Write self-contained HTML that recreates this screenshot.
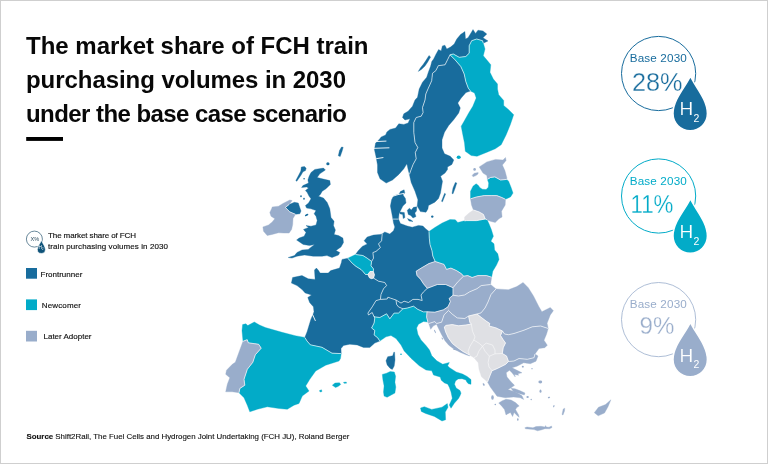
<!DOCTYPE html>
<html lang="en"><head><meta charset="utf-8"><title>FCH train market share 2030</title>
<style>
html,body{margin:0;padding:0;background:#fff}
body{width:768px;height:464px;overflow:hidden;position:relative;font-family:"Liberation Sans",sans-serif}
svg{position:absolute;left:0;top:0;display:block}
text{font-family:"Liberation Sans",sans-serif}
.t{font-weight:bold;font-size:24px;fill:#080808}
.lg{font-size:8px;fill:#111;stroke:#111;stroke-width:.15px}
.b30{font-size:11.7px;text-anchor:middle}
.pct{stroke:#fff;stroke-width:.3px}
.h{font-size:19px;fill:#fff;stroke-width:.15px}
.h2{font-size:10.5px;fill:#fff}
.land polygon{stroke-width:.35;stroke-linejoin:round}
</style></head><body>
<svg width="768" height="464" viewBox="0 0 768 464">
<rect x="0.5" y="0.5" width="767" height="463" fill="#fff" stroke="#cfcfcf" stroke-width="1"/>

<g class="land">
<g fill="#186c9d" stroke="#186c9d">
<polygon points="409.4,174.4 411.2,169.4 413.1,164.4 416.2,158.8 415.3,152.5 417.8,147.5 415.0,142.5 413.8,132.5 413.8,122.5 416.2,117.5 421.2,116.2 423.1,112.5 422.5,107.5 425.0,100.0 425.8,94.0 428.3,88.2 431.7,80.7 432.5,73.2 435.8,70.7 438.3,65.7 445.0,64.8 447.5,59.8 450.0,54.8 453.3,54.0 459.2,57.3 465.8,56.5 469.2,53.2 469.2,45.7 471.7,40.7 476.7,39.0 482.5,40.7 483.3,43.2 488.0,40.9 483.0,37.8 486.8,34.0 483.0,30.9 478.0,30.2 475.5,33.4 473.0,29.6 471.1,32.8 468.0,37.8 465.5,39.0 464.9,31.5 460.5,34.6 456.8,39.0 454.2,44.0 450.5,47.1 446.8,49.0 444.9,45.2 442.4,45.9 441.1,50.9 438.6,49.6 436.1,54.0 433.6,59.0 431.8,61.5 430.5,66.5 428.6,71.5 426.7,77.3 422.5,82.3 419.2,89.0 417.5,97.3 415.0,100.0 412.5,106.2 408.1,111.2 403.8,113.8 402.5,117.5 405.0,120.0 410.0,118.8 408.1,123.1 403.8,124.4 398.8,123.8 395.6,128.1 390.0,129.4 386.9,131.9 385.6,135.0 381.2,136.9 378.8,140.0 375.6,143.1 374.4,149.4 376.2,157.5 377.5,165.0 377.5,172.5 380.0,178.8 386.2,183.1 392.5,180.0 398.8,174.4 403.8,168.8 406.9,163.8 408.0,169.0 409.4,174.4"/>
<polygon points="429.0,55.5 430.6,57.0 427.7,62.0 425.0,66.0 421.7,69.2 418.3,71.4 420.3,68.0 423.3,64.3 426.0,60.3"/>
<polygon points="450.0,54.8 447.5,59.8 445.0,64.8 438.3,65.7 435.8,70.7 432.5,73.2 431.7,80.7 428.3,88.2 425.8,94.0 425.0,100.0 422.5,107.5 423.1,112.5 421.2,116.2 416.2,117.5 413.8,122.5 413.8,132.5 415.0,142.5 417.8,147.5 415.3,152.5 416.2,158.8 413.1,164.4 411.2,169.4 409.4,174.4 411.2,182.5 415.0,191.2 417.9,199.8 417.2,206.0 420.4,211.6 426.0,212.2 427.9,209.1 428.5,205.4 434.8,202.2 438.5,198.5 440.5,193.0 441.2,188.8 442.5,181.2 440.6,176.2 445.0,173.1 447.5,169.5 447.5,166.9 451.9,164.4 453.8,160.0 450.3,156.3 444.5,153.8 442.0,148.0 442.0,139.7 444.5,132.2 448.7,125.5 453.7,119.7 458.7,113.0 460.3,108.0 457.8,103.0 461.2,98.0 466.0,92.5 470.5,91.0 468.3,88.2 465.8,81.5 464.2,74.0 460.8,66.5 455.0,59.8"/>
<polygon points="404.1,189.8 400.4,191.6 399.1,194.1 393.5,196.0 391.6,199.8 390.4,206.0 391.6,212.2 392.9,219.1 398.5,219.1 399.1,213.5 401.0,209.8 402.9,206.0 406.0,202.9 405.4,198.5 402.9,194.8 404.8,192.9"/>
<polygon points="399.6,212.0 404.3,212.5 404.9,217.6 403.2,218.6 402.7,214.6 399.9,213.8"/>
<polygon points="407.3,210.2 409.5,208.2 411.3,210.0 413.5,207.3 416.8,206.8 416.5,211.0 414.8,213.0 416.0,216.5 413.0,218.0 410.8,215.5 408.3,214.5"/>
<polygon points="407.5,218.5 411.0,220.0 413.0,221.5 409.0,221.0"/>
<polygon points="382.2,233.9 384.8,232.0 389.8,233.9 393.5,230.8 394.8,227.0 393.5,222.9 392.9,219.1 398.5,219.1 400.4,223.5 407.2,226.0 412.2,227.2 418.5,225.4 422.9,226.0 425.4,228.5 429.0,231.5 429.3,238.2 430.0,244.5 432.0,250.8 432.8,256.0 435.2,261.5 428.9,263.6 421.0,268.2 416.2,271.2 417.0,275.5 420.6,279.3 423.5,283.8 427.3,288.3 423.5,291.9 421.0,295.0 422.2,300.5 418.0,299.4 412.9,299.4 408.5,302.5 404.1,301.2 401.0,303.1 396.0,300.0 390.4,298.1 387.9,297.2 387.2,299.0 380.4,299.4 381.0,294.4 383.5,288.8 386.6,285.6 384.8,282.5 378.5,281.2 373.5,278.1 374.4,274.8 373.3,271.5 373.5,268.9 371.0,265.8 371.6,261.4 373.5,258.2 372.9,252.6 376.0,251.4 380.4,247.6 378.5,243.9 381.6,240.8"/>
<polygon points="355.5,254.5 358.0,251.0 362.2,246.4 367.2,243.9 364.1,240.8 367.2,237.0 373.5,235.1 379.8,234.5 382.2,233.9 381.6,240.8 378.5,243.9 380.4,247.6 376.0,251.4 372.9,252.6 373.5,258.2 371.6,261.4 367.2,258.2 362.9,255.5"/>
<polygon points="347.8,258.2 352.2,263.2 356.0,266.4 361.0,269.5 362.9,271.4 365.5,274.5 367.9,274.5 369.5,277.8 371.5,278.6 373.5,278.1 378.5,281.2 384.8,282.5 386.6,285.6 383.5,288.8 381.0,294.4 380.4,299.4 376.0,300.6 372.2,306.9 367.9,313.1 368.5,315.0 372.2,312.5 373.5,315.5 374.8,318.0 374.1,323.0 371.6,328.0 374.8,330.5 374.1,334.9 377.9,338.0 379.8,341.1 374.8,343.0 369.8,347.4 363.5,347.4 357.2,344.9 349.8,344.2 343.5,345.5 341.0,348.6 341.2,353.6 332.0,353.2 322.0,347.3 310.3,344.8 307.0,341.0 304.8,337.4 307.1,331.8 309.0,325.5 310.9,319.2 312.8,314.9 314.0,311.8 313.4,306.8 309.6,302.4 307.8,297.4 311.5,294.9 305.2,293.0 302.0,289.4 297.0,285.6 291.4,283.1 292.6,277.5 302.0,275.6 308.2,278.8 315.1,279.4 314.5,270.0 316.4,268.1 318.2,270.0 320.1,273.1 328.2,273.1 330.8,270.6 339.5,268.1 341.4,262.5 342.0,259.4"/>
<polygon points="393.8,352.2 392.7,355.8 387.7,356.7 386.0,360.8 387.2,365.0 390.0,368.2 392.3,369.5 394.2,366.0 395.0,360.0 394.6,352.2"/>
<polygon points="396.0,300.0 390.4,298.1 387.9,297.2 387.2,299.0 380.4,299.4 376.0,300.6 372.2,306.9 367.9,313.1 368.5,315.0 372.2,312.5 373.5,315.5 374.8,316.9 379.8,317.5 386.6,313.8 389.8,318.8 394.1,313.1 398.5,313.1 402.9,308.8 398.5,306.9 396.6,304.4"/>
<polygon points="396.0,300.0 401.0,303.1 404.1,301.2 408.5,302.5 412.9,299.4 418.0,299.4 422.2,300.5 421.0,295.0 423.5,291.9 427.3,288.3 437.3,284.5 445.7,284.5 453.0,287.7 453.0,295.2 449.1,298.5 450.4,301.6 448.0,306.8 443.5,309.8 434.8,312.2 427.0,311.8 423.5,311.9 417.9,309.4 413.5,306.2 407.2,308.1 402.9,308.8 398.5,306.9 396.6,304.4"/>
<polygon points="314.8,169.4 323.5,168.1 325.4,170.0 319.8,173.8 317.2,177.5 322.2,178.8 329.8,180.6 330.4,184.4 326.0,188.8 322.2,191.2 320.4,194.4 318.5,196.2 323.5,198.1 327.2,202.5 329.8,208.8 331.0,217.5 334.1,221.2 333.5,225.6 335.4,230.0 334.1,234.4 338.5,235.6 342.9,238.1 343.5,242.5 341.0,246.9 336.0,250.5 339.8,252.5 338.5,255.0 332.0,257.5 327.0,255.6 322.0,256.2 313.2,256.2 304.5,255.0 297.0,256.2 292.0,258.1 288.2,257.5 294.5,255.6 297.0,252.5 302.0,250.0 308.2,249.4 314.5,244.4 309.5,245.6 303.2,244.4 296.6,240.0 299.1,238.1 304.1,236.2 306.0,232.5 303.5,229.4 308.5,227.5 306.0,225.6 311.0,226.2 316.0,225.0 317.2,220.6 316.0,216.2 314.1,213.8 316.0,210.6 311.0,208.8 306.6,208.1 305.4,205.6 308.5,203.1 311.0,198.8 309.1,196.2 307.2,192.5 305.4,190.6 308.5,188.1 306.6,186.9 301.6,187.5 302.9,185.6 308.5,183.1 307.9,180.0 309.1,176.2 311.0,172.5"/>
<polygon points="289.1,204.4 294.4,202.3 298.3,203.1 299.6,207.0 301.0,211.0 299.8,213.8 295.5,214.3 289.8,211.9 285.4,207.5"/>
<polygon points="343.2,147.3 342.0,151.5 340.2,156.6 338.3,155.8 339.5,150.5 341.5,147.0"/>
<polygon points="301.3,167.0 304.5,166.6 306.2,168.2 305.5,170.6 303.0,171.8 300.8,175.5 296.8,181.3 295.8,180.6 299.0,174.5 300.8,171.0"/>
<polygon points="444.6,193.3 445.6,193.9 442.5,201.8 441.5,201.3"/>
<polygon points="455.3,182.5 456.8,183.0 455.0,188.5 453.0,193.8 452.0,193.5 453.0,188.0"/>
</g>
<g fill="#02abc8" stroke="#02abc8">
<polygon points="450.0,54.8 453.3,54.0 459.2,57.3 465.8,56.5 469.2,53.2 469.2,45.7 471.7,40.7 476.7,39.0 482.5,40.7 483.3,43.2 485.0,49.0 483.3,55.7 486.7,59.8 490.8,64.8 490.0,72.3 493.3,79.0 497.5,84.0 497.5,89.0 498.7,94.7 503.7,100.5 503.7,105.5 508.7,109.7 513.7,114.7 510.3,124.7 506.2,134.7 501.2,144.7 495.3,148.8 487.0,152.2 477.0,156.3 471.2,155.5 465.3,151.3 464.5,143.0 462.8,134.7 461.2,126.3 464.5,120.5 468.7,113.0 472.8,106.3 476.2,98.0 474.5,93.0 470.5,91.0 468.3,88.2 465.8,81.5 464.2,74.0 460.8,66.5 455.0,59.8"/>
<polygon points="347.8,258.2 355.5,254.5 362.9,255.5 367.2,258.2 371.6,261.4 371.0,265.8 373.5,268.9 373.3,271.5 370.0,271.5 367.9,274.5 365.5,274.5 362.9,271.4 361.0,269.5 356.0,266.4 352.2,263.2"/>
<polygon points="379.8,341.1 377.9,338.0 374.1,334.9 374.8,330.5 371.6,328.0 374.1,323.0 374.8,318.0 373.5,315.5 374.8,316.9 379.8,317.5 386.6,313.8 389.8,318.8 394.1,313.1 398.5,313.1 402.9,308.8 407.2,308.1 413.5,306.2 417.9,309.4 423.5,311.9 427.0,311.8 426.6,317.2 427.9,322.0 423.5,321.5 418.5,324.2 416.6,328.0 417.9,334.2 421.0,339.9 426.0,345.5 429.5,350.0 431.8,355.8 436.8,360.8 442.7,364.2 449.3,362.5 447.7,365.8 449.3,367.5 456.2,371.9 462.6,374.1 467.1,376.4 471.0,379.6 471.0,384.3 468.4,383.8 466.8,381.9 465.9,380.0 462.0,378.7 458.1,379.0 455.5,380.9 454.5,384.2 456.2,388.0 460.0,390.6 461.0,393.2 460.0,395.8 458.5,398.5 454.3,403.3 451.0,408.3 449.3,405.0 452.3,398.3 451.0,391.9 449.4,387.4 447.8,384.2 444.5,382.9 441.3,380.3 440.2,377.0 433.5,375.0 431.8,370.8 426.0,370.0 419.3,365.8 411.0,358.3 404.2,351.0 401.0,344.9 396.0,338.6 391.0,335.5 386.0,336.8"/>
<polygon points="420.5,408.0 424.3,406.7 431.7,409.4 442.0,407.2 447.3,403.6 448.0,407.2 445.3,412.1 445.6,419.8 442.0,421.0 434.4,416.4 425.6,413.5 421.3,411.4"/>
<polygon points="382.3,374.4 386.5,373.2 390.1,371.6 394.3,372.0 395.6,376.2 394.9,382.2 395.8,387.1 394.9,393.1 391.3,394.9 387.1,397.3 384.1,396.1 383.5,391.9 384.1,385.9 382.9,379.8"/>
<polygon points="242.6,324.6 245.8,323.8 247.8,325.5 254.3,322.0 259.5,325.0 265.3,327.5 282.0,332.3 295.3,335.7 304.8,337.4 307.0,341.0 310.3,344.8 322.0,347.3 332.0,353.2 341.2,353.6 340.5,358.5 339.0,361.0 325.7,365.2 315.7,371.0 309.8,379.3 305.7,386.0 309.0,391.0 302.3,396.0 299.0,403.5 294.0,405.2 287.3,409.3 279.0,408.5 267.3,406.8 257.3,409.3 249.8,411.8 247.3,405.2 244.0,397.7 239.0,392.7 239.8,388.5 244.8,385.2 244.0,379.3 247.3,369.3 252.8,362.3 255.3,354.8 261.2,348.2 258.7,344.3 248.3,342.8 247.2,339.7 243.0,341.3 242.0,330.7"/>
<polygon points="332.3,385.2 335.0,383.0 339.5,382.8 340.7,384.5 338.0,386.5 335.5,387.5"/>
<polygon points="343.5,382.3 346.3,382.0 346.5,383.2 344.0,383.3"/>
<polygon points="319.5,390.5 321.5,389.8 322.0,391.5 320.0,392.0"/>
<polygon points="429.0,231.5 434.8,227.5 442.2,223.0 450.0,219.5 455.3,219.8 457.8,222.5 464.5,220.8 466.5,220.6 476.5,220.6 485.2,219.0 487.1,219.8 489.0,223.8 491.5,230.0 493.4,236.2 490.9,241.2 494.0,243.8 494.6,250.0 497.8,253.8 499.0,259.4 496.5,265.0 492.8,271.2 491.6,277.2 486.5,275.6 477.8,275.6 472.1,277.5 467.8,275.6 463.5,276.2 461.5,273.8 456.5,270.6 450.9,268.1 446.5,269.4 444.0,264.4 435.2,261.5 432.8,256.0 432.0,250.8 430.0,244.5 429.3,238.2"/>
<polygon points="487.4,179.4 490.5,177.5 494.9,176.9 500.5,180.0 506.8,179.4 508.6,181.2 511.1,187.5 513.0,193.1 510.5,196.9 505.5,199.3 501.8,197.5 496.8,195.6 491.1,195.6 484.2,195.6 476.8,196.9 470.5,198.8 470.5,191.2 473.0,186.2 476.1,183.8 478.2,185.3 480.0,187.8 482.4,189.2 486.1,189.6 488.3,187.2 488.7,183.0"/>
</g>
<g fill="#99adcb" stroke="#99adcb">
<polygon points="272.2,206.9 278.5,206.2 282.9,203.5 289.8,200.0 292.2,200.6 289.1,204.4 285.4,207.5 289.8,211.9 295.5,214.3 293.0,218.5 292.7,224.5 291.6,229.4 289.1,233.1 284.1,233.1 278.5,232.8 272.2,234.4 267.2,235.6 263.5,231.2 262.9,226.9 268.5,225.0 272.2,221.9 274.8,218.8 271.0,216.2 269.8,212.5 271.6,208.8"/>
<polygon points="243.0,341.3 247.2,339.7 248.3,342.8 258.7,344.3 261.2,348.2 255.3,354.8 252.8,362.3 247.3,369.3 244.0,379.3 244.8,385.2 239.8,388.5 239.0,392.7 232.3,391.8 225.7,391.8 227.3,384.3 229.8,377.7 225.7,374.3 226.5,370.2 232.3,364.3 235.3,362.3 239.5,350.7"/>
<polygon points="435.2,261.5 444.0,264.4 446.5,269.4 450.9,268.1 456.5,270.6 461.5,273.8 463.5,276.2 458.2,281.4 453.0,287.7 445.7,284.5 437.3,284.5 427.3,288.3 423.5,283.8 420.6,279.3 417.0,275.5 416.2,271.2 421.0,268.2 428.9,263.6"/>
<polygon points="463.5,276.2 467.8,275.6 472.1,277.5 477.8,275.6 486.5,275.6 491.6,277.2 490.6,284.5 481.2,285.6 477.0,288.7 469.7,291.8 464.5,295.0 458.5,296.0 453.0,295.2 453.0,287.7 458.2,281.4"/>
<polygon points="453.0,295.2 458.5,296.0 464.5,295.0 469.7,291.8 477.0,288.7 481.2,285.6 490.6,284.5 496.0,288.9 491.0,294.5 488.0,302.0 485.0,308.0 481.0,312.9 477.0,314.0 468.6,316.0 464.8,318.5 457.2,317.9 452.2,314.1 448.5,310.5 448.0,306.8 450.4,301.6 449.1,298.5"/>
<polygon points="427.0,311.8 434.8,312.2 443.5,309.8 448.0,306.8 448.5,310.5 444.1,314.8 441.6,322.2 436.6,323.5 434.8,321.6 428.9,323.5 427.9,322.0 426.6,317.2"/>
<polygon points="448.5,310.5 452.2,314.1 457.2,317.9 464.8,318.5 468.6,316.0 469.8,322.2 471.3,324.0 466.0,325.0 458.5,325.8 452.2,324.6 446.0,325.4 444.3,327.0 445.6,331.8 448.3,337.7 452.5,343.6 457.5,347.6 463.0,351.5 469.5,355.0 469.8,356.0 466.0,354.8 460.0,352.2 453.8,349.0 448.8,345.2 445.0,340.8 441.9,335.2 438.8,329.0 436.5,324.3 433.2,326.0 430.7,329.3 429.0,324.3 428.9,323.5 434.8,321.6 436.6,323.5 441.6,322.2 444.1,314.8"/>
<polygon points="496.0,288.9 508.4,289.7 516.8,286.6 523.1,282.4 528.3,287.7 533.5,296.0 538.8,306.5 541.9,311.7 550.3,307.5 553.4,310.7 550.3,314.9 547.1,323.2 548.2,328.5 540.7,326.0 532.3,326.8 524.0,330.2 514.0,333.5 508.4,334.7 504.5,334.0 502.5,331.0 496.0,327.9 489.1,326.0 489.8,323.5 486.0,321.0 481.0,317.2 477.0,314.0 481.0,312.9 485.0,308.0 488.0,302.0 491.0,294.5"/>
<polygon points="502.5,331.0 504.5,334.0 508.4,334.7 514.0,333.5 524.0,330.2 532.3,326.8 540.7,326.0 548.2,328.5 546.5,334.3 544.0,340.2 547.3,345.2 544.8,347.7 539.0,348.5 535.0,354.0 534.0,357.7 527.3,359.3 519.0,358.5 514.0,361.0 508.5,361.5 506.5,356.0 502.3,353.5 503.2,347.7 505.5,343.0 503.0,339.5 500.5,335.5"/>
<polygon points="487.5,382.0 489.8,376.0 492.0,370.7 497.3,368.5 505.7,364.3 508.5,361.5 514.0,361.0 519.0,358.5 527.3,359.3 534.0,357.7 535.0,354.0 538.0,356.0 536.0,361.2 530.3,363.7 523.7,362.8 517.0,366.2 512.0,367.8 517.0,370.3 522.0,372.8 517.8,373.7 518.7,375.3 514.5,374.5 515.3,377.0 512.0,372.8 509.5,370.3 506.2,372.8 507.0,377.0 511.2,382.0 514.5,385.3 511.2,387.8 507.8,389.5 509.5,390.0 516.5,392.6 522.0,395.8 523.7,399.5 520.3,397.8 513.7,397.0 505.3,397.8 497.0,396.2 494.5,392.8 490.3,387.0"/>
<polygon points="498.7,402.9 502.3,400.7 506.0,399.3 511.1,400.0 515.5,402.6 519.2,405.9 517.0,407.3 515.5,409.5 518.5,414.7 519.2,417.3 517.0,415.4 514.1,412.5 512.6,416.6 510.4,412.5 507.5,413.9 506.0,414.9 504.5,409.5 501.6,405.9"/>
<polygon points="511.0,388.3 515.0,388.8 520.3,390.8 525.0,393.0 524.3,395.0 519.0,393.6 513.5,391.8"/>
<polygon points="594.3,412.7 598.5,407.2 605.5,404.6 610.9,399.8 608.0,406.8 604.5,413.0 598.2,415.8"/>
<polygon points="524.8,427.8 527.0,427.0 533.0,427.8 536.0,426.6 541.0,426.3 545.0,427.0 545.6,425.6 546.4,427.1 549.0,427.2 551.5,426.0 552.0,427.5 549.5,428.8 545.0,428.7 541.0,430.0 537.5,430.8 534.0,429.6 528.0,429.0 525.5,428.8"/>
<polygon points="562.0,414.5 563.2,409.0 564.8,408.2 564.5,411.0 563.0,415.0"/>
<polygon points="479.2,166.9 486.8,161.9 495.5,159.4 503.0,160.0 505.5,157.5 506.1,160.6 502.4,165.0 504.9,170.6 506.8,177.5 506.8,179.4 500.5,180.0 494.9,176.9 490.5,177.5 487.4,179.4 486.8,175.6 483.0,173.1 481.1,170.0"/>
<polygon points="472.2,175.3 474.3,173.2 478.2,172.6 478.0,174.0 476.0,175.6 473.0,176.8"/>
<polygon points="470.5,198.8 476.8,196.9 484.2,195.6 491.1,195.6 496.8,195.6 501.8,197.5 505.5,199.3 505.2,205.0 501.5,211.2 502.1,216.9 499.0,218.8 495.2,222.5 490.2,221.2 487.1,219.8 485.2,219.0 483.4,214.4 479.0,211.9 473.4,210.0 471.5,205.0"/>
</g>
<g fill="#dfe0e4" stroke="#dfe0e4">
<polygon points="373.5,278.1 374.4,274.8 373.3,271.5 370.0,271.5 367.9,274.5 369.5,277.8 371.5,278.6"/>
<polygon points="468.6,316.0 477.0,314.0 481.0,317.2 486.0,321.0 489.8,323.5 489.1,326.0 496.0,327.9 502.5,331.0 500.5,335.5 503.0,339.5 505.5,343.0 503.2,347.7 502.3,353.5 506.5,356.0 508.5,361.5 505.7,364.3 497.3,368.5 492.0,370.7 489.8,376.0 487.5,382.0 481.5,376.8 479.0,369.3 478.2,362.7 474.0,357.7 469.5,355.0 463.0,351.5 457.5,347.6 452.5,343.6 448.3,337.7 445.6,331.8 444.3,327.0 446.0,325.4 452.2,324.6 458.5,325.8 466.0,325.0 471.3,324.0 469.8,322.2"/>
<polygon points="473.4,210.0 479.0,211.9 483.4,214.4 485.2,219.0 476.5,220.6 466.5,220.6 464.5,220.8 464.6,216.9 469.0,213.1"/>
</g>
</g>
<ellipse cx="327.9" cy="163.75" rx="1.6" ry="1.6" fill="#186c9d"/>
<ellipse cx="306.6" cy="215" rx="1.9" ry="1.0" fill="#186c9d" transform="rotate(-30 306.6 215)"/>
<ellipse cx="304.1" cy="178.75" rx="0.8" ry="0.8" fill="#186c9d"/>
<ellipse cx="301" cy="196.25" rx="0.8" ry="1.0" fill="#186c9d"/>
<ellipse cx="304" cy="198.75" rx="0.8" ry="0.9" fill="#186c9d"/>
<ellipse cx="432.25" cy="216.6" rx="1.2" ry="1.2" fill="#186c9d"/>
<ellipse cx="458.7" cy="157.2" rx="2.0" ry="1.7" fill="#02abc8"/>
<ellipse cx="474.6" cy="169.4" rx="1.3" ry="1.3" fill="#99adcb"/>
<ellipse cx="401" cy="354.2" rx="0.8" ry="0.8" fill="#02abc8"/>
<ellipse cx="483.7" cy="384.5" rx="0.8" ry="1.4" fill="#99adcb" transform="rotate(-30 483.7 384.5)"/>
<ellipse cx="492.5" cy="397.5" rx="1.3" ry="2.2" fill="#99adcb"/>
<ellipse cx="495.3" cy="404.5" rx="0.8" ry="0.8" fill="#99adcb"/>
<ellipse cx="517.8" cy="419.5" rx="0.8" ry="1.2" fill="#99adcb"/>
<ellipse cx="522.8" cy="366.7" rx="1.0" ry="0.9" fill="#99adcb"/>
<ellipse cx="532" cy="368.7" rx="0.7" ry="0.6" fill="#99adcb"/>
<ellipse cx="540.3" cy="382" rx="1.9" ry="1.4" fill="#99adcb"/>
<ellipse cx="540.5" cy="391.2" rx="1.0" ry="1.6" fill="#99adcb"/>
<ellipse cx="527.6" cy="397" rx="1.2" ry="1.0" fill="#99adcb"/>
<ellipse cx="549" cy="397.5" rx="1.2" ry="0.7" fill="#99adcb" transform="rotate(-20 549 397.5)"/>
<ellipse cx="553.8" cy="406.2" rx="0.6" ry="1.2" fill="#99adcb" transform="rotate(20 553.8 406.2)"/>
<ellipse cx="531.2" cy="399.5" rx="0.7" ry="0.7" fill="#99adcb"/>
<ellipse cx="435" cy="331.5" rx="0.5" ry="1.8" fill="#99adcb" transform="rotate(-25 435 331.5)"/>
<ellipse cx="442.3" cy="338.5" rx="0.5" ry="1.2" fill="#99adcb" transform="rotate(-30 442.3 338.5)"/>
<ellipse cx="455" cy="349.6" rx="2.0" ry="0.5" fill="#99adcb" transform="rotate(10 455 349.6)"/>
<g fill="none" stroke="#fff" stroke-width=".7" stroke-linejoin="round" opacity=".95">
<polyline points="450.0,54.8 447.5,59.8 445.0,64.8 438.3,65.7 435.8,70.7 432.5,73.2 431.7,80.7 428.3,88.2 425.8,94.0 425.0,100.0 422.5,107.5 423.1,112.5 421.2,116.2 416.2,117.5 413.8,122.5 413.8,132.5 415.0,142.5 417.8,147.5 415.3,152.5 416.2,158.8 413.1,164.4 411.2,169.4 409.4,174.4"/>
<polyline points="450.0,54.8 453.3,54.0 459.2,57.3 465.8,56.5 469.2,53.2 469.2,45.7 471.7,40.7 476.7,39.0 482.5,40.7 483.3,43.2"/>
<polyline points="450.0,54.8 455.0,59.8 460.8,66.5 464.2,74.0 465.8,81.5 468.3,88.2 470.5,91.0"/>
<polyline points="429.0,231.5 429.3,238.2 430.0,244.5 432.0,250.8 432.8,256.0 435.2,261.5"/>
<polyline points="435.2,261.5 428.9,263.6 421.0,268.2 416.2,271.2 417.0,275.5 420.6,279.3 423.5,283.8 427.3,288.3"/>
<polyline points="427.3,288.3 423.5,291.9 421.0,295.0 422.2,300.5 418.0,299.4 412.9,299.4 408.5,302.5 404.1,301.2 401.0,303.1 396.0,300.0"/>
<polyline points="396.0,300.0 390.4,298.1 387.9,297.2 387.2,299.0 380.4,299.4"/>
<polyline points="380.4,299.4 381.0,294.4 383.5,288.8 386.6,285.6 384.8,282.5 378.5,281.2 373.5,278.1"/>
<polyline points="373.5,278.1 374.4,274.8 373.3,271.5 370.0,271.5 367.9,274.5 369.5,277.8 371.5,278.6 373.5,278.1"/>
<polyline points="373.3,271.5 373.5,268.9 371.0,265.8 371.6,261.4"/>
<polyline points="371.6,261.4 373.5,258.2 372.9,252.6 376.0,251.4 380.4,247.6 378.5,243.9 381.6,240.8 382.2,233.9"/>
<polyline points="371.6,261.4 367.2,258.2 362.9,255.5 355.5,254.5"/>
<polyline points="347.8,258.2 352.2,263.2 356.0,266.4 361.0,269.5 362.9,271.4 365.5,274.5 367.9,274.5"/>
<polyline points="380.4,299.4 376.0,300.6 372.2,306.9 367.9,313.1 368.5,315.0 372.2,312.5 373.5,315.5"/>
<polyline points="373.5,315.5 374.8,318.0 374.1,323.0 371.6,328.0 374.8,330.5 374.1,334.9 377.9,338.0 379.8,341.1"/>
<polyline points="304.8,337.4 307.0,341.0 310.3,344.8 322.0,347.3 332.0,353.2 341.2,353.6"/>
<polyline points="373.5,315.5 374.8,316.9 379.8,317.5 386.6,313.8 389.8,318.8 394.1,313.1 398.5,313.1 402.9,308.8"/>
<polyline points="402.9,308.8 398.5,306.9 396.6,304.4 396.0,300.0"/>
<polyline points="427.3,288.3 437.3,284.5 445.7,284.5 453.0,287.7"/>
<polyline points="453.0,287.7 453.0,295.2"/>
<polyline points="453.0,295.2 449.1,298.5 450.4,301.6 448.0,306.8"/>
<polyline points="448.0,306.8 443.5,309.8 434.8,312.2 427.0,311.8"/>
<polyline points="427.0,311.8 423.5,311.9 417.9,309.4 413.5,306.2 407.2,308.1 402.9,308.8"/>
<polyline points="427.0,311.8 426.6,317.2 427.9,322.0"/>
<polyline points="239.0,392.7 239.8,388.5 244.8,385.2 244.0,379.3 247.3,369.3 252.8,362.3 255.3,354.8 261.2,348.2 258.7,344.3 248.3,342.8 247.2,339.7 243.0,341.3"/>
<polyline points="289.1,204.4 285.4,207.5 289.8,211.9 295.5,214.3"/>
<polyline points="491.6,277.2 486.5,275.6 477.8,275.6 472.1,277.5 467.8,275.6 463.5,276.2"/>
<polyline points="463.5,276.2 461.5,273.8 456.5,270.6 450.9,268.1 446.5,269.4 444.0,264.4 435.2,261.5"/>
<polyline points="463.5,276.2 458.2,281.4 453.0,287.7"/>
<polyline points="490.6,284.5 481.2,285.6 477.0,288.7 469.7,291.8 464.5,295.0 458.5,296.0 453.0,295.2"/>
<polyline points="496.0,288.9 491.0,294.5 488.0,302.0 485.0,308.0 481.0,312.9 477.0,314.0"/>
<polyline points="468.6,316.0 464.8,318.5 457.2,317.9 452.2,314.1 448.5,310.5"/>
<polyline points="477.0,314.0 468.6,316.0"/>
<polyline points="448.5,310.5 444.1,314.8 441.6,322.2 436.6,323.5 434.8,321.6 428.9,323.5"/>
<polyline points="468.6,316.0 469.8,322.2 471.3,324.0"/>
<polyline points="471.3,324.0 466.0,325.0 458.5,325.8 452.2,324.6 446.0,325.4 444.3,327.0 445.6,331.8 448.3,337.7 452.5,343.6 457.5,347.6 463.0,351.5 469.5,355.0"/>
<polyline points="477.0,314.0 481.0,317.2 486.0,321.0 489.8,323.5 489.1,326.0 496.0,327.9 502.5,331.0"/>
<polyline points="502.5,331.0 500.5,335.5 503.0,339.5 505.5,343.0 503.2,347.7 502.3,353.5"/>
<polyline points="502.3,353.5 506.5,356.0 508.5,361.5"/>
<polyline points="508.5,361.5 505.7,364.3 497.3,368.5 492.0,370.7"/>
<polyline points="492.0,370.7 489.8,376.0 487.5,382.0"/>
<polyline points="548.2,328.5 540.7,326.0 532.3,326.8 524.0,330.2 514.0,333.5 508.4,334.7 504.5,334.0 502.5,331.0"/>
<polyline points="535.0,354.0 534.0,357.7 527.3,359.3 519.0,358.5 514.0,361.0 508.5,361.5"/>
<polyline points="506.8,179.4 500.5,180.0 494.9,176.9 490.5,177.5 487.4,179.4"/>
<polyline points="505.5,199.3 501.8,197.5 496.8,195.6 491.1,195.6 484.2,195.6 476.8,196.9 470.5,198.8"/>
<polyline points="485.2,219.0 483.4,214.4 479.0,211.9 473.4,210.0"/>
<polyline points="485.2,219.0 487.1,219.8"/>
<polyline points="464.5,220.8 466.5,220.6 476.5,220.6 485.2,219.0"/>
<polyline points="392.9,219.1 398.5,219.1"/>
</g>
<g fill="none" stroke="#fff" stroke-width=".6" stroke-linejoin="round" opacity=".85">
<polyline points="471.3,324.0 472.5,331.2 475.0,336.9 473.8,340.0"/>
<polyline points="473.8,340.0 470.0,346.2 468.1,351.2 469.5,355.0"/>
<polyline points="473.8,340.0 478.8,343.1 482.5,346.2"/>
<polyline points="482.5,346.2 478.8,351.2 476.9,356.2 474.0,357.7"/>
<polyline points="482.5,346.2 486.2,343.1 492.5,345.0 495.0,350.0 495.0,353.8"/>
<polyline points="482.5,346.2 485.0,351.2 489.4,356.2"/>
<polyline points="489.4,356.2 495.0,353.8 502.3,353.5"/>
<polyline points="489.4,356.2 488.1,362.5 489.0,367.0 492.0,370.7"/>
</g>
<g fill="none" stroke="#fff" stroke-width=".9" stroke-linecap="round">
<polyline points="375.4,141.6 386.0,141.1"/>
<polyline points="374.2,148.3 389.0,147.8"/>
<polyline points="376.6,158.6 383.0,157.6"/>
<polyline points="392.3,196.4 398.0,194.6 403.8,193.4"/>
<polyline points="312.6,314.6 315.3,320.6"/>
</g>
<text class="t" x="26" y="54.4" textLength="342.5" lengthAdjust="spacing">The market share of FCH train</text>
<text class="t" x="26" y="88.2" textLength="320" lengthAdjust="spacing">purchasing volumes in 2030</text>
<text class="t" x="26" y="122.4" textLength="321" lengthAdjust="spacing">under the base case scenario</text>
<rect x="26.2" y="137" width="36.8" height="3.9" fill="#000"/>

<circle cx="34.4" cy="239.1" r="8" fill="#fff" stroke="#1b4a66" stroke-width=".65"/>
<text x="34.8" y="241" font-size="5.6" text-anchor="middle" fill="#2b4b5e">X%</text>
<path d="M41.4 240.2 C42.6 243.6 45.4 246.2 45.4 249.4 A4.05 4.05 0 0 1 37.3 249.4 C37.3 246.2 40.2 243.6 41.4 240.2Z" fill="#0f5379" stroke="#fff" stroke-width=".7"/>
<text x="38.6" y="248.5" font-size="4.6" fill="#fff">H</text>
<text x="42" y="249.8" font-size="2.6" fill="#fff">2</text>
<text class="lg" x="48" y="238" textLength="88" lengthAdjust="spacing">The market share of FCH</text>
<text class="lg" x="48" y="249.3" textLength="120" lengthAdjust="spacing">train purchasing volumes in 2030</text>
<rect x="26" y="268" width="11" height="10.7" fill="#186c9d"/>
<text class="lg" x="40.5" y="276.6">Frontrunner</text>
<rect x="26" y="299.4" width="11" height="10.7" fill="#02abc8"/>
<text class="lg" x="41.7" y="307.8" textLength="39.3" lengthAdjust="spacing">Newcomer</text>
<rect x="26" y="330.8" width="11" height="10.7" fill="#99adcb"/>
<text class="lg" x="43.5" y="339.2">Later Adopter</text>
<text x="26.5" y="439" font-size="7.9" fill="#111" stroke="#111" stroke-width=".12" textLength="323" lengthAdjust="spacing"><tspan font-weight="bold">Source</tspan> Shift2Rail, The Fuel Cells and Hydrogen Joint Undertaking (FCH JU), Roland Berger</text>

<circle cx="658.6" cy="73.5" r="37.1" fill="#fff" stroke="#186c9d" stroke-width="1.0"/>
<text class="b30" x="658.3" y="62.3" fill="#186c9d" textLength="57" lengthAdjust="spacing">Base 2030</text>
<text class="pct" x="632" y="90.6" font-size="25.5" fill="#186c9d" textLength="50.6" lengthAdjust="spacingAndGlyphs">28%</text>
<path d="M690.4 75.8 C693.5 84.8 707.4 98.8 707.4 113.5 A17.2 17.2 0 0 1 673 113.5 C673 98.8 687.3 84.8 690.4 75.8Z" fill="#186c9d" stroke="#fff" stroke-width="1.5" stroke-linejoin="miter"/>
<text class="h" x="679.6" y="115.4" stroke="#186c9d">H</text>
<text class="h2" x="693.4" y="122.0">2</text>

<circle cx="658.6" cy="196.0" r="37.1" fill="#fff" stroke="#02abc8" stroke-width="1.0"/>
<text class="b30" x="658.3" y="184.8" fill="#02abc8" textLength="57" lengthAdjust="spacing">Base 2030</text>
<text class="pct" x="630.4" y="213.1" font-size="25.5" fill="#02abc8" textLength="43" lengthAdjust="spacingAndGlyphs">11%</text>
<path d="M690.4 198.3 C693.5 207.3 707.4 221.3 707.4 236.0 A17.2 17.2 0 0 1 673 236.0 C673 221.3 687.3 207.3 690.4 198.3Z" fill="#02abc8" stroke="#fff" stroke-width="1.5" stroke-linejoin="miter"/>
<text class="h" x="679.6" y="237.9" stroke="#02abc8">H</text>
<text class="h2" x="693.4" y="244.5">2</text>

<circle cx="658.6" cy="319.6" r="37.1" fill="#fff" stroke="#99adcb" stroke-width="0.8"/>
<text class="b30" x="658.3" y="308.4" fill="#99adcb" textLength="57" lengthAdjust="spacing">Base 2030</text>
<text class="pct" x="639.6" y="333.8" font-size="24.5" fill="#99adcb" textLength="34.8" lengthAdjust="spacingAndGlyphs">9%</text>
<path d="M690.4 321.9 C693.5 330.9 707.4 344.9 707.4 359.6 A17.2 17.2 0 0 1 673 359.6 C673 344.9 687.3 330.9 690.4 321.9Z" fill="#99adcb" stroke="#fff" stroke-width="1.5" stroke-linejoin="miter"/>
<text class="h" x="679.6" y="361.5" stroke="#99adcb">H</text>
<text class="h2" x="693.4" y="368.1">2</text>

</svg></body></html>
